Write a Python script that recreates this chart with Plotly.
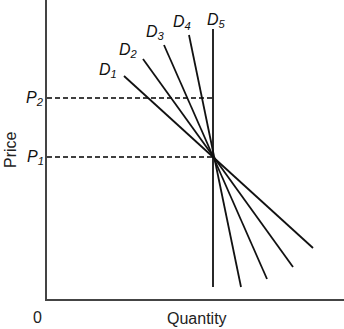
import plotly.graph_objects as go

# Data (units: arbitrary quantity / price scale)
curve_names = ["D1", "D2", "D3", "D4", "D5"]
curve_x = [[77, 266], [96, 246], [117, 220], [142, 194], [166, 166]]
curve_y = [[223, 51], [240, 32], [254, 20], [264, 12], [270, 12]]
label_x = [61, 81, 108, 135, 169]
label_y = [229, 249, 267, 277, 279]
label_text = ["D<sub>1</sub>", "D<sub>2</sub>", "D<sub>3</sub>", "D<sub>4</sub>", "D<sub>5</sub>"]
q1 = 166
price_levels = [142, 201]
price_labels = ["P<sub>1</sub>", "P<sub>2</sub>"]

X_MAX = 297
Y_MAX = 299

fig = go.Figure()

for p in price_levels:
    fig.add_trace(go.Scatter(x=[0, q1], y=[p, p], mode="lines",
                             line=dict(color="black", width=1.3, dash="5px,3px"),
                             hoverinfo="skip", showlegend=False))

for name, xs, ys in zip(curve_names, curve_x, curve_y):
    fig.add_trace(go.Scatter(x=xs, y=ys, mode="lines", name=name,
                             line=dict(color="#111111", width=1.8),
                             hoverinfo="skip", showlegend=False))

ann = []
font_lab = dict(family="Liberation Sans, Arial, sans-serif", size=16, color="#111111")
for lx, ly, t in zip(label_x, label_y, label_text):
    ann.append(dict(x=lx, y=ly, xref="x", yref="y", text="<i>" + t + "</i>",
                    showarrow=False, font=font_lab, xanchor="center", yanchor="middle"))
for p, t in zip(price_levels, price_labels):
    ann.append(dict(x=-12 / X_MAX, y=p / Y_MAX, xref="paper", yref="paper",
                    text="<i>" + t + "</i>", showarrow=False, font=font_lab,
                    xanchor="center", yanchor="middle"))
font_ax = dict(family="Liberation Sans, Arial, sans-serif", size=16, color="#222222")
ann.append(dict(x=-10 / X_MAX, y=-18 / Y_MAX, xref="paper", yref="paper", text="0",
                showarrow=False, font=font_ax, xanchor="center", yanchor="middle"))
ann.append(dict(x=150 / X_MAX, y=-19 / Y_MAX, xref="paper", yref="paper", text="Quantity",
                showarrow=False, font=font_ax, xanchor="center", yanchor="middle"))
ann.append(dict(x=-37 / X_MAX, y=149 / Y_MAX, xref="paper", yref="paper", text="Price",
                showarrow=False, textangle=-90, font=font_ax,
                xanchor="center", yanchor="middle"))

fig.update_layout(
    width=344, height=329,
    margin=dict(l=47, r=0, t=0, b=30),
    paper_bgcolor="white", plot_bgcolor="white",
    annotations=ann,
    xaxis=dict(range=[0, X_MAX], showgrid=False, zeroline=False, showticklabels=False,
               ticks="", showline=True, linecolor="#444444", linewidth=1.5,
               fixedrange=True),
    yaxis=dict(range=[0, Y_MAX], showgrid=False, zeroline=False, showticklabels=False,
               ticks="", showline=True, linecolor="#444444", linewidth=1.5,
               fixedrange=True),
)

fig.write_html("out.html", config={"displayModeBar": False},
               post_script="document.body.style.margin='0px';")
